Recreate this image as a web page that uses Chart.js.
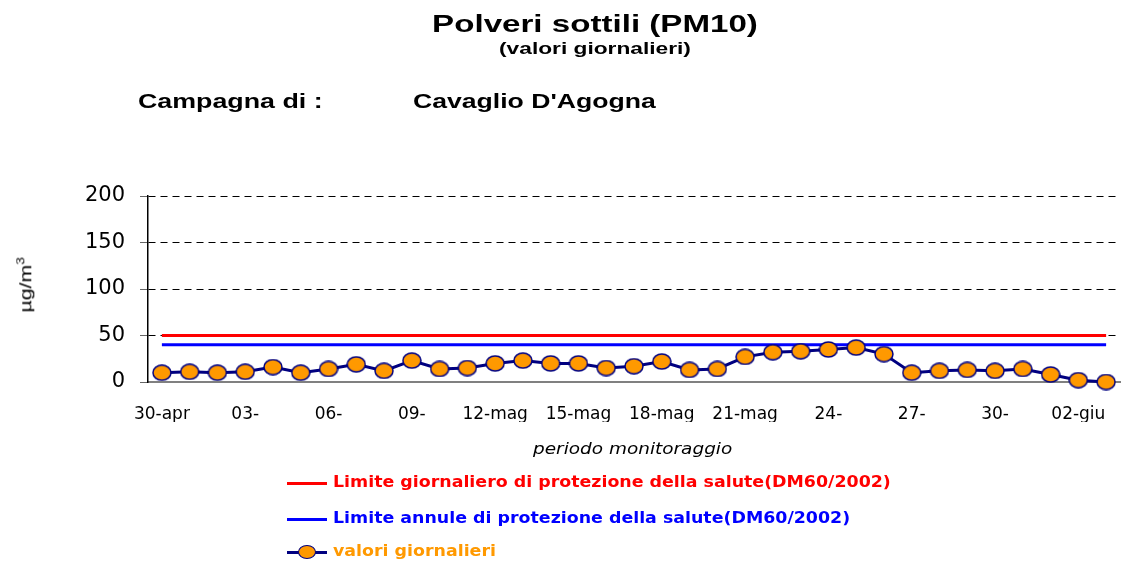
<!DOCTYPE html>
<html>
<head>
<meta charset="utf-8">
<script src="https://cdn.jsdelivr.net/npm/chart.js@4"></script>
<style>
  body { margin: 0; background: #fff; }
  #wrap { position: relative; width: 1123px; height: 564px; overflow: hidden; }
  #grafico { position: absolute; left: 0; top: 0; }
  .txt { position: absolute; white-space: nowrap; font-weight: bold; }
  .titolo { font-family: "Liberation Sans", Arial, sans-serif; color: #000; }
  .centro { left: 0; width: 1190px; text-align: center; transform-origin: 595px 0; }
  .sx { transform-origin: 0 0; }
  .leg { position: absolute; left: 287px; font-family: "DejaVu Sans", sans-serif; font-weight: bold; font-size: 15px; white-space: nowrap; }
  .leg .riga { position: absolute; left: 0; width: 40px; height: 3px; }
  .leg .pallino { position: absolute; left: 11px; width: 18px; height: 14px; border-radius: 50%; background: #FF9900; border: 1.5px solid #000080; box-sizing: border-box; }
  .leg span { position: absolute; left: 46px; transform: scaleX(1.16); transform-origin: 0 0; }
</style>
</head>
<body>
<div id="wrap">
  <canvas id="grafico" width="1123" height="564"></canvas>

  <div class="txt titolo centro" style="top:10px; font-size:24px; transform:scaleX(1.38);">Polveri sottili (PM10)</div>
  <div class="txt titolo centro" style="top:40px; font-size:16px; transform:scaleX(1.42);">(valori giornalieri)</div>
  <div class="txt titolo sx" style="left:138px; top:90px; font-size:20px; transform:scaleX(1.34);">Campagna di :</div>
  <div class="txt titolo sx" style="left:413px; top:90px; font-size:20px; transform:scaleX(1.33);">Cavaglio D'Agogna</div>

  <div class="txt" style="left:3px; top:274px; font-family:'Liberation Sans',Arial,sans-serif; font-weight:normal; font-size:17px; transform:rotate(-90deg) scaleX(1.25); transform-origin:center;">&micro;g/m<sup style="font-size:11px">3</sup></div>
  <div class="txt sx" style="left:533px; top:440px; font-family:'DejaVu Sans',sans-serif; font-weight:normal; font-style:italic; font-size:15px; transform:scaleX(1.23);">periodo monitoraggio</div>

  <div class="leg" style="top:473px; color:#FF0000;"><div class="riga" style="top:9px; background:#FF0000;"></div><span>Limite giornaliero di protezione della salute(DM60/2002)</span></div>
  <div class="leg" style="top:509px; color:#0000FF;"><div class="riga" style="top:9px; background:#0000FF;"></div><span>Limite annule di protezione della salute(DM60/2002)</span></div>
  <div class="leg" style="top:542px; color:#FF9900;"><div class="riga" style="top:9px; background:#000080;"></div><div class="pallino" style="top:3px;"></div><span>valori giornalieri</span></div>
</div>

<script>
// giorni del monitoraggio (30 aprile - 3 giugno)
const giorni = [
    '30-apr', '01-mag', '02-mag', '03-mag', '04-mag', '05-mag', '06-mag', '07-mag', '08-mag', '09-mag',
    '10-mag', '11-mag', '12-mag', '13-mag', '14-mag', '15-mag', '16-mag', '17-mag', '18-mag', '19-mag',
    '20-mag', '21-mag', '22-mag', '23-mag', '24-mag', '25-mag', '26-mag', '27-mag', '28-mag', '29-mag',
    '30-mag', '31-mag', '01-giu', '02-giu', '03-giu'
];

// etichette mostrate sull'asse x (una ogni tre giorni)
const etichetteX = ['30-apr', '03-', '06-', '09-', '12-mag', '15-mag', '18-mag', '21-mag', '24-', '27-', '30-', '02-giu'];

// PM10 giornaliero (µg/m3)
const valoriGiornalieri = [
    10, 11, 10, 11, 16, 10, 14, 19, 12, 23,
    14, 15, 20, 23, 20, 20, 15, 17, 22, 13,
    14, 27, 32, 33, 35, 37, 30, 10, 12, 13,
    12, 14, 8, 2, 0
];

const limiteGiornaliero = giorni.map(() => 50);
const limiteAnnuale = giorni.map(() => 40);

const tickY = [0, 50, 100, 150, 200];

// marcatore ellittico come in Excel
function marcatore() {
    const c = document.createElement('canvas');
    c.width = 20;
    c.height = 17;
    const g = c.getContext('2d');
    g.beginPath();
    g.ellipse(10, 8.5, 9, 7.5, 0, 0, Math.PI * 2);
    g.fillStyle = '#FF9900';
    g.fill();
    g.lineWidth = 1.5;
    g.strokeStyle = '#000080';
    g.stroke();
    return c;
}

document.addEventListener('DOMContentLoaded', function () {
    const ctx = document.getElementById('grafico');

    new Chart(ctx, {
        type: 'line',
        data: {
            labels: giorni,
            datasets: [{
                label: 'valori giornalieri',
                data: valoriGiornalieri,
                borderColor: '#000080',
                borderWidth: 3,
                pointStyle: marcatore(),
                pointRadius: 8,
                tension: 0,
                clip: false,
                order: 0
            }, {
                label: 'Limite giornaliero di protezione della salute(DM60/2002)',
                data: limiteGiornaliero,
                borderColor: '#FF0000',
                borderWidth: 3,
                pointRadius: 0,
                order: 1
            }, {
                label: 'Limite annule di protezione della salute(DM60/2002)',
                data: limiteAnnuale,
                borderColor: '#0000FF',
                borderWidth: 3,
                pointRadius: 0,
                order: 2
            }]
        },
        options: {
            responsive: false,
            animation: false,
            layout: {
                autoPadding: false,
                padding: { top: 196, left: 0, right: 3, bottom: 142 }
            },
            plugins: {
                legend: { display: false },
                tooltip: { enabled: false }
            },
            scales: {
                x: {
                    offset: true,
                    afterFit: function (scale) {
                        scale.height = 40;
                        scale.paddingLeft = 0;
                        scale.paddingRight = 0;
                    },
                    grid: { display: false, drawTicks: false },
                    border: { display: true, color: '#808080', width: 2 },
                    ticks: {
                        autoSkip: false,
                        maxRotation: 0,
                        padding: 22,
                        color: '#000',
                        font: { family: 'DejaVu Sans', size: 17 },
                        callback: function (value, index) {
                            return index % 3 === 0 ? etichetteX[index / 3] : '';
                        }
                    }
                },
                y: {
                    min: 0,
                    max: 200,
                    afterFit: function (scale) { scale.width = 148; },
                    afterBuildTicks: function (scale) {
                        scale.ticks = tickY.map(v => ({ value: v }));
                    },
                    border: { display: true, color: '#000', width: 1.5, dash: [7, 5] },
                    grid: {
                        color: function (c) { return c.tick && c.tick.value === 0 ? 'rgba(0,0,0,0)' : '#000'; },
                        lineWidth: 1,
                        tickBorderDash: [],
                        tickColor: '#666',
                        tickLength: 8
                    },
                    ticks: {
                        padding: 15,
                        color: '#000',
                        font: { family: 'DejaVu Sans', size: 21 }
                    }
                }
            }
        }
    });
});
</script>
</body>
</html>
